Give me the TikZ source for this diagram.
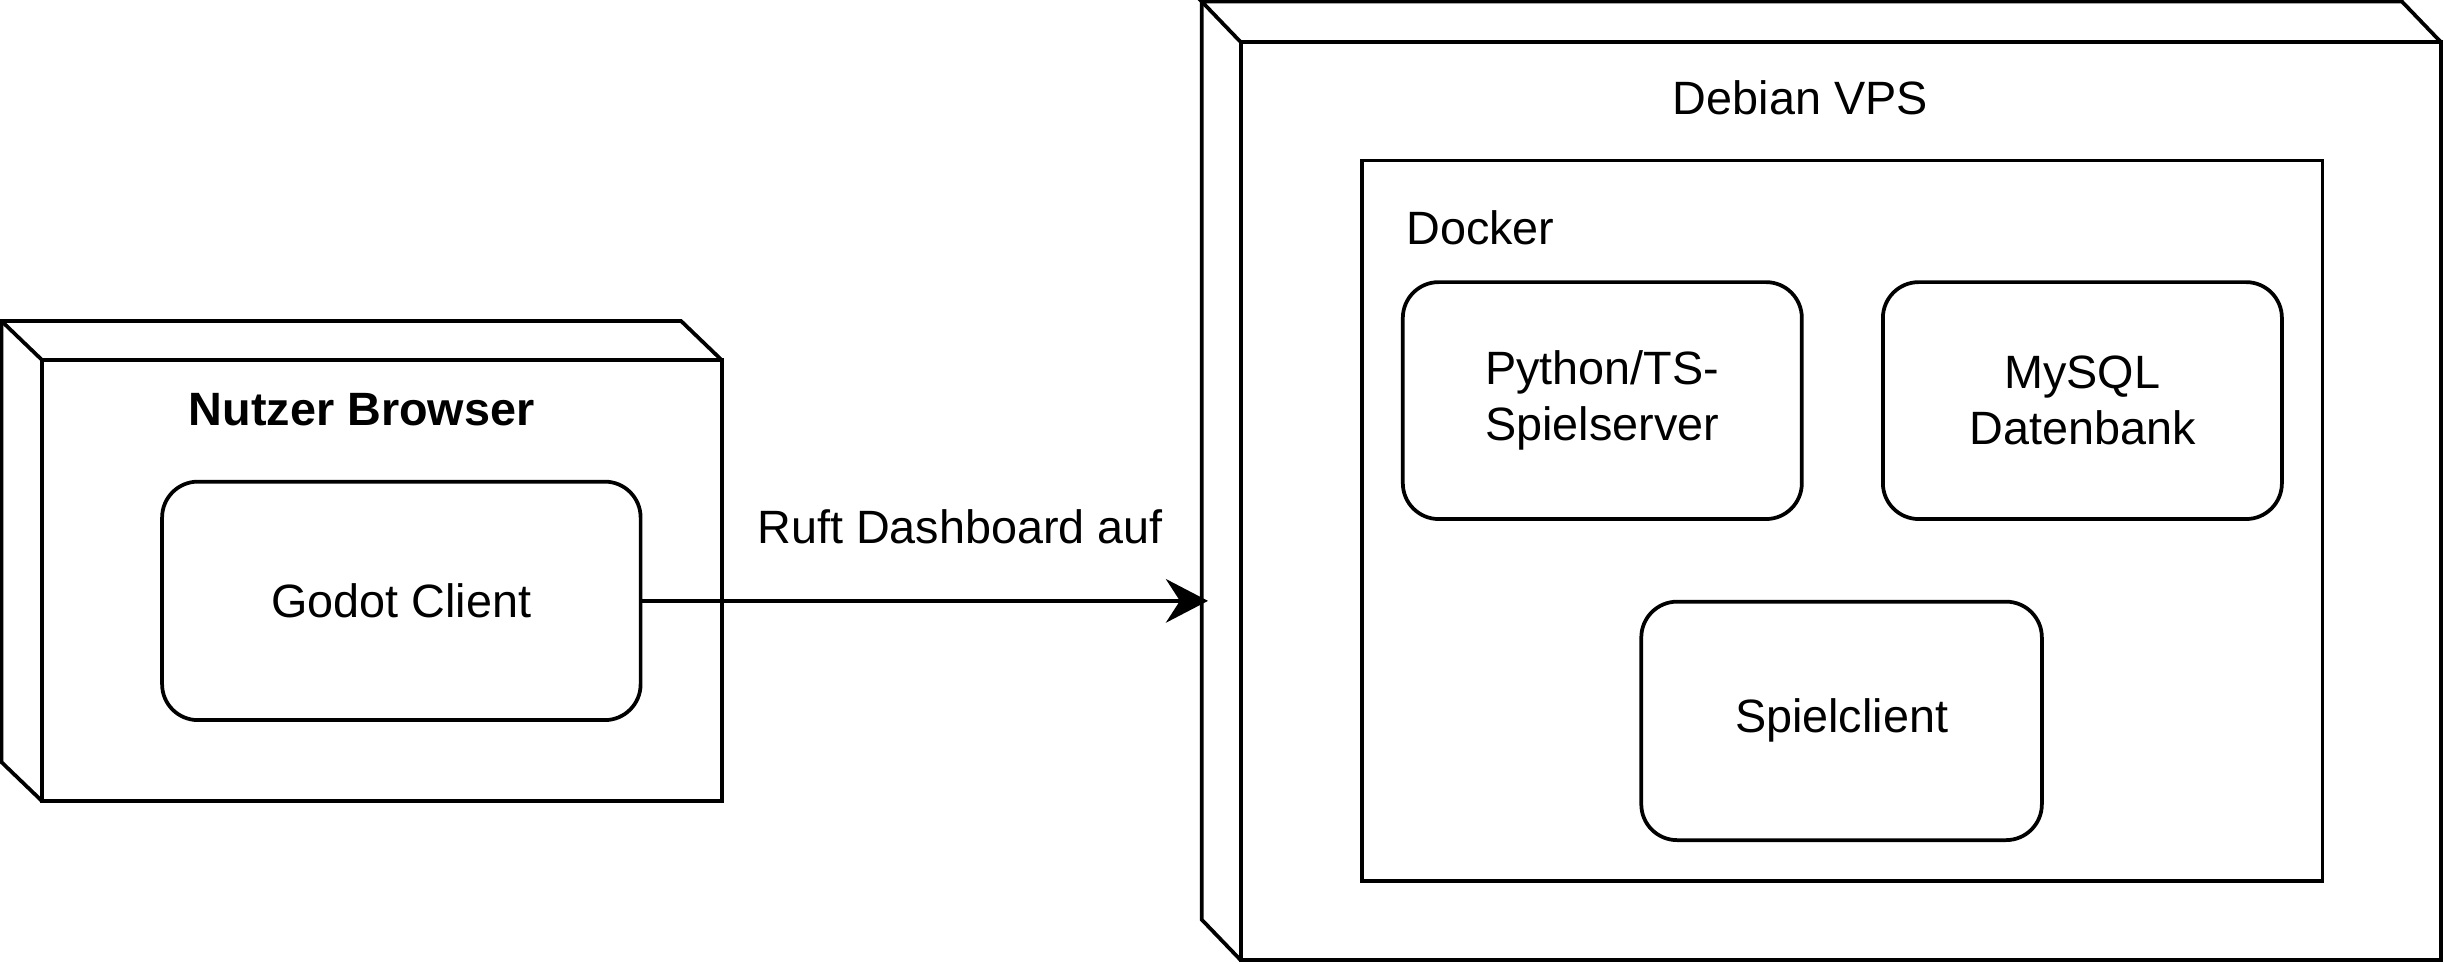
\documentclass[tikz,border=0pt]{standalone}
\usepackage{fontspec}
\setmainfont{Liberation Sans}
\usetikzlibrary{arrows.meta,calc}
\begin{document}
\begin{tikzpicture}[x=1pt,y=-1pt, line width=2.4pt, line join=miter,
  face/.style={draw, rectangle, inner sep=0pt, outer sep=0pt},
  comp/.style={draw, rectangle, rounded corners=23pt, inner sep=0pt, outer sep=0pt, align=center,
    font=\fontsize{30}{36}\selectfont},
  lbl/.style={font=\fontsize{30}{36}\selectfont, inner sep=0pt},
  arr/.style={-{Stealth[length=27pt,width=28pt,inset=9pt]}}]
\useasboundingbox (0,0) rectangle (1568,618);

% --- Left node: Nutzer Browser ---
\node[face, minimum width=436pt, minimum height=283pt] (browser) at (245,372.5) {};
\draw (browser.north west) -- ++(-26,-25) -- ($(browser.north east)+(-26,-25)$) -- (browser.north east);
\draw ($(browser.north west)+(-26,-25)$) -- ($(browser.south west)+(-26,-25)$) -- (browser.south west);
\node[lbl, font=\fontsize{30}{36}\selectfont\bfseries] (browserlbl) at (232,263) {Nutzer Browser};
\node[comp, minimum width=307pt, minimum height=153pt] (godot) at (257.5,385.5) {Godot Client};

% --- Right node: Debian VPS ---
\node[face, minimum width=770pt, minimum height=589pt] (vps) at (1181,321.5) {};
\draw (vps.north west) -- ++(-25,-26) -- ($(vps.north east)+(-25,-26)$) -- (vps.north east);
\draw ($(vps.north west)+(-25,-26)$) -- ($(vps.south west)+(-25,-26)$) -- (vps.south west);
\node[lbl] (vpslbl) at (1155,63) {Debian VPS};

\node[face, minimum width=616pt, minimum height=462pt] (docker) at (1182,334) {};
\node[lbl, anchor=west] (dockerlbl) at (901,146) {Docker};

\node[comp, minimum width=256pt, minimum height=152pt] (py) at (1028,257) {Python/TS-\\Spielserver};
\node[comp, minimum width=256pt, minimum height=152pt] (db) at (1336,257) {MySQL\\Datenbank};
\node[comp, minimum width=257pt, minimum height=153pt] (sc) at (1181.5,462.5) {Spielclient};

% --- Connector ---
\coordinate (arrend) at (775,385.5);
\draw[arr] (godot.east) -- (arrend);
\node[lbl] (arrlbl) at (616,338) {Ruft Dashboard auf};
\end{tikzpicture}
\end{document}
